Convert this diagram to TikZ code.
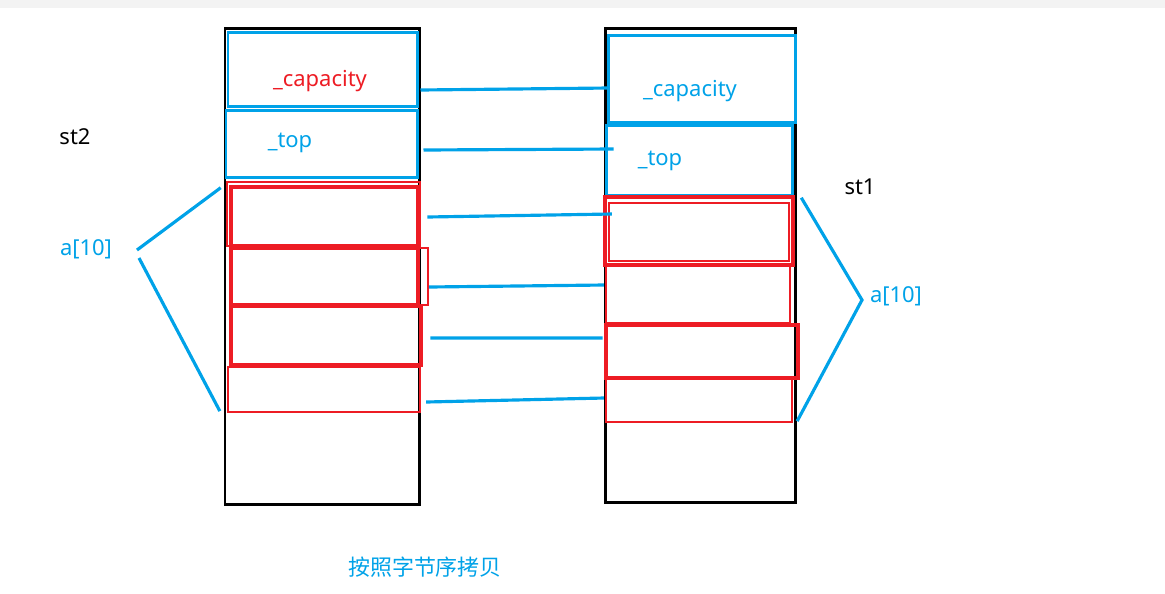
\documentclass[tikz,border=0pt]{standalone}
\usepackage{fontspec}
\setmainfont{Noto Sans}
\newfontfamily\cjk{Noto Sans CJK SC}
\usetikzlibrary{positioning,calc,fit}
\definecolor{cBlue}{HTML}{00A2E8}
\definecolor{cRed}{HTML}{ED1C24}
\definecolor{cStrip}{HTML}{F3F3F3}
\tikzset{
  stackbox/.style={draw=black,line width=1.7pt,inner sep=0pt},
  fieldbox/.style={draw=cBlue,line width=1.7pt,inner sep=0pt},
  cellthick/.style={draw=cRed,line width=2.6pt,inner sep=0pt},
  cellthin/.style={draw=cRed,line width=1.3pt,inner sep=0pt},
  link/.style={cBlue,line width=1.8pt},
  lbl/.style={font=\fontsize{12.5}{15}\selectfont,inner sep=1pt},
}
\begin{document}
\begin{tikzpicture}[x=0.02cm,y=-0.02cm]
  \useasboundingbox (0,0) rectangle (1165,593);
  \fill[cStrip] (0,0) rectangle (1165,8);
  % st2 (left)
  \node[stackbox,fit={(225,28) (419,504)}] (st2) {};
  \node[fieldbox,fit={(228,32) (417,106)}] (capL) {};
  \node[fieldbox,fit={(226,110) (417,177)}] (topL) {};
  \node[cellthin,fit={(227,182) (420,246)}] (aL1o) {};
  \node[cellthick,fit={(231,187) (418,246)}] (aL1) {};
  \node[cellthick,fit={(231,248) (418,305)}] (aL2i) {};
  \node[cellthin,fit={(231,248) (428,305)}] (aL2) {};
  \node[cellthick,fit={(231,306) (421,365)}] (aL3) {};
  \node[cellthin,fit={(228,367) (420,412)}] (aL4) {};
  % st1 (right)
  \node[stackbox,fit={(605,28) (795,502)}] (st1) {};
  \node[fieldbox,fit={(608,35) (795,122)}] (capR) {};
  \node[fieldbox,fit={(606,125) (792,195)}] (topR) {};
  \node[cellthick,fit={(605,197) (793,265)}] (aR1o) {};
  \node[cellthin,fit={(609,203) (789,261)}] (aR1) {};
  \node[cellthin,fit={(606,265) (790,323)}] (aR2) {};
  \node[cellthick,fit={(606,325) (798,378)}] (aR3) {};
  \node[cellthin,fit={(606,378) (792,422)}] (aR4) {};
  % texts
  \node[lbl,text=cRed] (capLt) at (320,81) {\_capacity};
  \node[lbl,text=cBlue] (topLt) at (290,143) {\_top};
  \node[lbl,text=cBlue] (capRt) at (690,91) {\_capacity};
  \node[lbl,text=cBlue] (topRt) at (660,161) {\_top};
  \node[lbl] (st2t) at (75,137) {st2};
  \node[lbl] (st1t) at (860,187) {st1};
  \node[lbl,text=cBlue] (aLt) at (86,249) {a[10]};
  \node[lbl,text=cBlue] (aRt) at (896,296) {a[10]};
  \node[lbl,text=cBlue] (note) at (425,567) {\cjk 按照字节序拷贝};
  % byte-by-byte links
  \draw[link] ($(capL.east)+(2,21)$) -- ($(capR.west)+(2,9.5)$);
  \draw[link] ($(topL.east)+(5,6.5)$) -- ($(topR.west)+(9,-11)$);
  \draw[link] ($(aL1.east)+(7,0.5)$) -- ($(aR1.west)+(4,-18)$);
  \draw[link] ($(aL2.east)+(0,10.5)$) -- ($(aR2.west)+(-1,-9)$);
  \draw[link] ($(aL3.east)+(7,2.5)$) -- ($(aR3.west)+(-1,-13.5)$);
  \draw[link] ($(aL4.east)+(5,12.5)$) -- ($(aR4.west)+(-1,-2)$);
  % a[10] brackets
  \coordinate (tipLa) at (137,250);
  \coordinate (tipLb) at (139,258);
  \coordinate (tipR) at (862,300);
  \draw[link] ($(aL1.north west)+(-8,3)$) -- (tipLa);
  \draw[link] (tipLb) -- ($(aL4.south west)+(-7,-2)$);
  \draw[link] ($(aR1o.north east)+(6,3)$) -- (tipR) -- ($(aR4.south east)+(4,-2)$);
\end{tikzpicture}
\end{document}
